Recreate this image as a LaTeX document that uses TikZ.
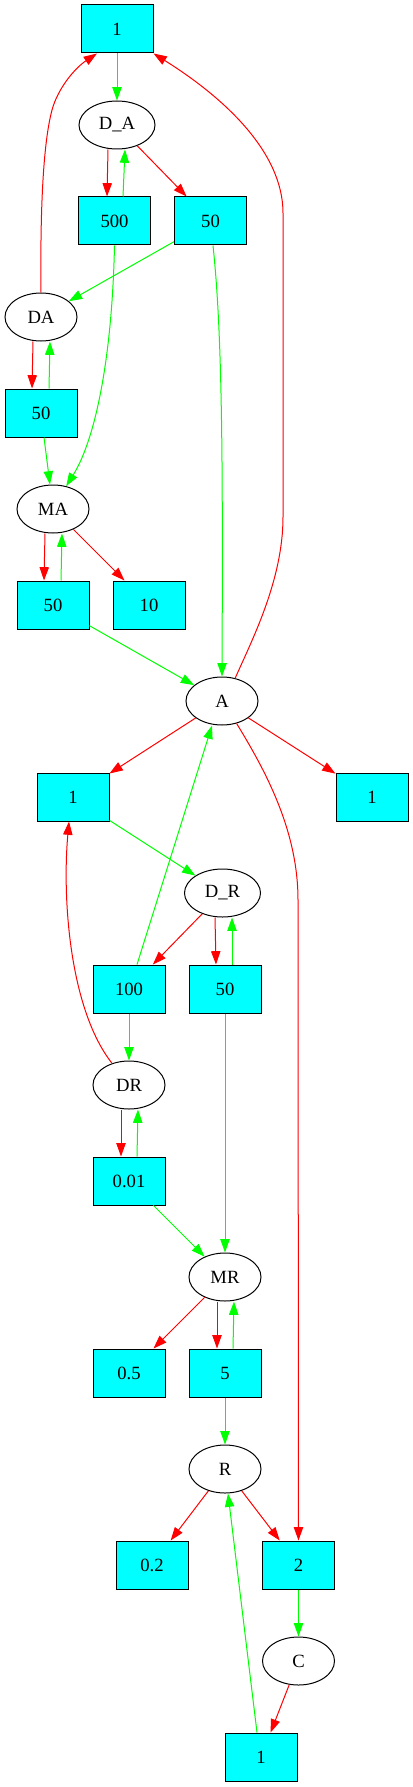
\documentclass[tikz,border=0pt]{standalone}
\usepackage{fontspec}
\setmainfont{Liberation Serif}
\usetikzlibrary{arrows.meta,shapes.geometric,calc}
\definecolor{gvgreen}{RGB}{0,255,0}
\definecolor{gvred}{RGB}{255,0,0}
\definecolor{gvcyan}{RGB}{0,255,255}
\begin{document}
\begin{tikzpicture}[x=0.75pt,y=-0.75pt,
  every node/.style={font=\fontsize{14}{16}\selectfont, inner sep=0pt},
  valbox/.style={rectangle, draw=black, line width=0.75pt, fill=gvcyan, minimum width=54pt, minimum height=36pt},
  varell/.style={ellipse, draw=black, line width=0.75pt, minimum width=54pt, minimum height=36pt},
  wideell/.style={varell, minimum width=57pt},
  gedge/.style={draw=gvgreen, line width=0.75pt, -{Triangle[length=10pt,width=7pt]}},
  redge/.style={draw=gvred, line width=0.75pt, -{Triangle[length=10pt,width=7pt]}}]
\useasboundingbox (0,0) rectangle (413,1787);
% nodes
\node[valbox] (nT) at (117,29) {1};
\node[wideell] (nDA2) at (117,125) {D\_A};
\node[valbox] (n500) at (114.5,221) {500};
\node[valbox] (n50a) at (210.5,221) {50};
\node[varell] (nDA) at (41,317) {DA};
\node[valbox] (n50b) at (41,413) {50};
\node[varell] (nMA) at (53,509) {MA};
\node[valbox] (n50c) at (53,605) {50};
\node[valbox] (n10) at (149,605) {10};
\node[varell] (nA) at (222,701) {A};
\node[valbox] (n1l) at (73,797) {1};
\node[valbox] (n1r) at (372,797) {1};
\node[wideell] (nDR2) at (222.5,893) {D\_R};
\node[valbox] (n100) at (129,989) {100};
\node[valbox] (n50d) at (225,989) {50};
\node[varell] (nDR) at (129,1085) {DR};
\node[valbox] (n001) at (129,1181) {0.01};
\node[varell] (nMR) at (225,1277) {MR};
\node[valbox] (n05) at (129,1373) {0.5};
\node[valbox] (n5) at (225,1373) {5};
\node[varell] (nR) at (225,1469) {R};
\node[valbox] (n02) at (152,1565) {0.2};
\node[valbox] (n2) at (298.5,1565) {2};
\node[varell] (nC) at (298.5,1661) {C};
\node[valbox] (n1b) at (261,1757) {1};
% edges top
\draw[gedge] (nT) -- (nDA2);
\draw[redge] ($(nDA2.south)+(-9,0)$) -- ($(n500.north)+(-7.5,0)$);
\draw[gedge] ($(n500.north)+(8.5,0)$) -- ($(nDA2.south)+(8,0)$);
\draw[redge] (nDA2) -- (n50a);
\draw[gedge] (n50a) -- (nDA);
\draw[gedge] ($(n50a.south)+(2.5,0)$) .. controls (222,330) and (223,450) .. (nA.north);
\draw[gedge] (n500.south) .. controls (112,360) and (95,440) .. (nMA.60);
\draw[redge] (nDA.north) .. controls (40,200) and (44,140) .. (52,110) .. controls (58,88) and (75,68) .. ($(nT.south)+(-20,0)$);
\draw[redge] ($(nDA.south)+(-8,0)$) -- ($(n50b.north)+(-9,0)$);
\draw[gedge] ($(n50b.north)+(8,0)$) -- ($(nDA.south)+(9,0)$);
\draw[gedge] ($(n50b.south)+(3,0)$) -- ($(nMA.north)+(-3,0)$);
\draw[redge] ($(nMA.south)+(-8,0)$) -- ($(n50c.north)+(-9,0)$);
\draw[gedge] ($(n50c.north)+(8,0)$) -- ($(nMA.south)+(9,0)$);
\draw[redge] (nMA) -- (n10);
\draw[gedge] (n50c) -- (nA);
\draw[redge] (nA.60) .. controls (252,640) and (283,580) .. (283,517) -- (283,213) .. controls (283,150) and (220,95) .. (nT.south east);
\draw[redge] (nA) -- (n1l);
\draw[redge] (nA) -- (n1r);
\draw[redge] (nA.-57) .. controls (265,770) and (298,830) .. (298,900) -- (n2.north);
% middle
\draw[gedge] (n1l) -- (nDR2);
\draw[gedge] ($(n100.north)+(8,0)$) -- ($(nA.south)+(-10,0)$);
\draw[redge] (nDR2) -- (n100);
\draw[redge] ($(nDR2.south)+(-7.5,0)$) -- ($(n50d.north)+(-9,0)$);
\draw[gedge] ($(n50d.north)+(7,0)$) -- ($(nDR2.south)+(9.5,0)$);
\draw[redge] (nDR.128) .. controls (70,1010) and (62,900) .. ($(n1l.south)+(-4,0)$);
\draw[gedge] (n100) -- (nDR);
\draw[redge] ($(nDR.south)+(-8,0)$) -- ($(n001.north)+(-8,0)$);
\draw[gedge] ($(n001.north)+(8,0)$) -- ($(nDR.south)+(9,0)$);
\draw[gedge] (n001) -- (nMR);
\draw[gedge] (n50d) -- (nMR);
% bottom
\draw[redge] (nMR) -- (n05);
\draw[redge] ($(nMR.south)+(-8,0)$) -- ($(n5.north)+(-8,0)$);
\draw[gedge] ($(n5.north)+(8,0)$) -- ($(nMR.south)+(9,0)$);
\draw[gedge] (n5) -- (nR);
\draw[redge] (nR) -- (n02);
\draw[redge] (nR) -- (n2);
\draw[gedge] (n2) -- (nC);
\draw[redge] (nC) -- (n1b);
\draw[gedge] ($(n1b.north)+(-4,0)$) -- ($(nR.south)+(3,0)$);
\end{tikzpicture}
\end{document}
